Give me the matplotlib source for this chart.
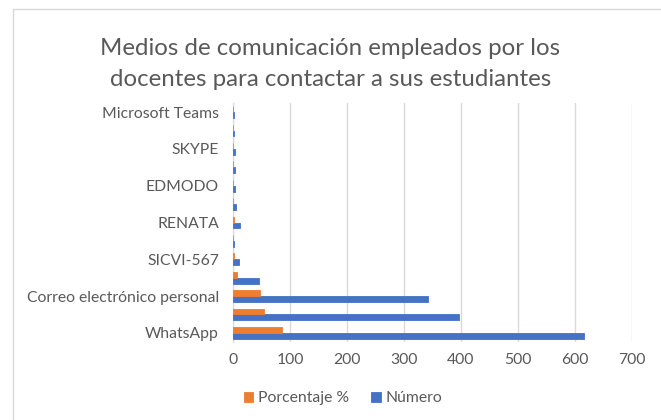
import numpy as np
import matplotlib
matplotlib.use('Agg')
import matplotlib.pyplot as plt
from matplotlib.patches import Rectangle

plt.rcParams['font.family'] = ['Lato', 'DejaVu Sans']

# Categorias de abajo hacia arriba (Excel solo rotula una de cada dos)
medios = ['WhatsApp', 'Llamada telefónica', 'Correo electrónico personal',
          'Correo institucional', 'SICVI-567', 'Google Meet', 'RENATA',
          'Zoom', 'EDMODO', 'Facebook', 'SKYPE', 'Google Classroom',
          'Microsoft Teams']
numero = [615, 396, 342, 45, 10, 2, 12, 5, 3, 3, 3, 1, 1]
porcentaje = [85.5, 55, 47.6, 6.3, 1.4, 0.3, 1.7, 0.7, 0.4, 0.4, 0.4, 0.1, 0.1]
xticks = [0, 100, 200, 300, 400, 500, 600, 700]

txt = '#595959'
fs = 11.3
fig = plt.figure(figsize=(6.61, 4.2), dpi=100)
ax = fig.add_axes([0.3525, 0.1857, 0.6036, 0.569])

y = np.arange(len(medios))
h = 0.32
ax.barh(y - h/2, numero, height=h, color='#4472C4', edgecolor='#4472C4',
        linewidth=0.6, label='Número', zorder=3)
ax.barh(y + h/2, porcentaje, height=h, color='#ED7D31', edgecolor='#ED7D31',
        linewidth=0.6, label='Porcentaje %', zorder=3)

ax.set_ylim(-0.5, len(medios) - 0.5)
ax.set_xlim(0, 700)
ax.set_xticks(xticks)
ax.set_xticklabels([str(v) for v in xticks], fontsize=fs, color=txt)
ax.set_yticks(y)
ax.set_yticklabels([m if i % 2 == 0 else '' for i, m in enumerate(medios)],
                   fontsize=fs, color=txt)
ax.tick_params(length=0)
ax.tick_params(axis='x', pad=8)
ax.tick_params(axis='y', pad=10)
ax.grid(axis='x', color='#D9D9D9', linewidth=1, zorder=0)
for s in ['top', 'right', 'bottom']:
    ax.spines[s].set_visible(False)
ax.spines['left'].set_color('#D9D9D9')

fig.text(0.5, 0.848, 'Medios de comunicación empleados por los\ndocentes para contactar a sus estudiantes',
         ha='center', va='center', fontsize=17.3, color=txt, linespacing=1.62)

handles, labels = ax.get_legend_handles_labels()
fig.legend(handles[::-1], labels[::-1], loc='center', bbox_to_anchor=(0.519, 0.052),
           ncol=2, frameon=False, fontsize=fs, labelcolor=txt,
           handlelength=0.6, handleheight=0.6, handletextpad=0.3, columnspacing=1.4)

fig.patches.append(Rectangle((13/661, -0.05), 1.0, 1 - 9/420 + 0.05,
                             transform=fig.transFigure, fill=False,
                             edgecolor='#D9D9D9', linewidth=1))

fig.savefig('out.png', dpi=100)
